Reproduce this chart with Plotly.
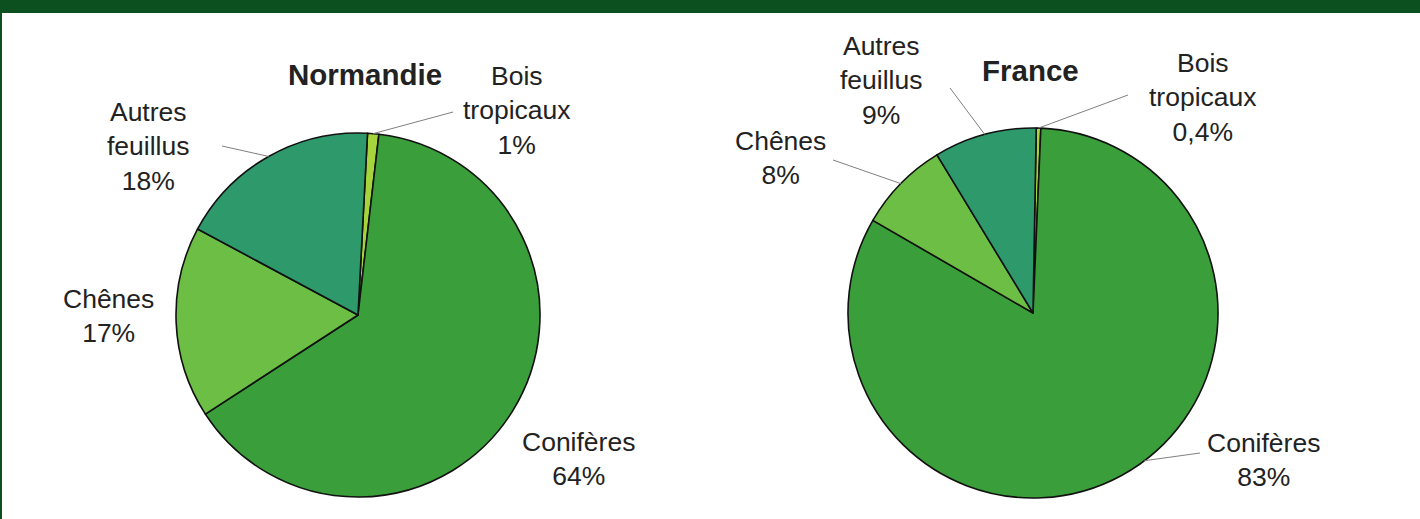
import math
import plotly.graph_objects as go

W, H = 1420, 519

# ---- data ----
categories = ["Bois tropicaux", "Conifères", "Chênes", "Autres feuillus"]
normandie_values = [1, 64, 17, 18]
france_values = [0.4, 83, 8, 9]
normandie_labels = ["1%", "64%", "17%", "18%"]
france_labels = ["0,4%", "83%", "8%", "9%"]
colors = ["#a6d43c", "#3a9e3a", "#6cbf44", "#2e9a6c"]

def px(x):
    return x / W

def py(y):
    return 1 - y / H

# pie geometry (pixels)
N_C, N_R, N_ROT = (358, 315), 182, 3
F_C, F_R, F_ROT = (1033, 313), 185, 1

def dom(c, r):
    return dict(x=[px(c[0] - r), px(c[0] + r)], y=[py(c[1] + r), py(c[1] - r)])

def mid_point(values, idx, c, r, rot):
    tot = sum(values)
    start = sum(values[:idx]) / tot * 360
    ang = math.radians(rot + start + values[idx] / tot * 180)
    return c[0] + r * math.sin(ang), c[1] - r * math.cos(ang)

def edge_point(c, r, deg):
    a = math.radians(deg)
    return c[0] + r * math.sin(a), c[1] - r * math.cos(a)

fig = go.Figure()
for vals, c, r, rot in [(normandie_values, N_C, N_R, N_ROT), (france_values, F_C, F_R, F_ROT)]:
    fig.add_trace(go.Pie(
        labels=categories, values=vals, sort=False, direction="clockwise",
        rotation=rot, domain=dom(c, r), textinfo="none", hoverinfo="skip",
        marker=dict(colors=colors, line=dict(color="#111111", width=1.6)),
        showlegend=False,
    ))

FONT = "Liberation Sans, Arial, Helvetica, sans-serif"
TXT = "#222222"

def label(x, y, text, size=26.5, bold=False):
    fig.add_annotation(x=px(x), y=py(y), xref="paper", yref="paper",
                       text=f"<b>{text}</b>" if bold else text, showarrow=False,
                       font=dict(family=FONT, size=size, color=TXT),
                       xanchor="center", yanchor="middle", align="center")

def leader(head, tail):
    fig.add_shape(type="line", xref="paper", yref="paper",
                  x0=px(head[0]), y0=py(head[1]), x1=px(tail[0]), y1=py(tail[1]),
                  line=dict(color="#808080", width=1))

# Normandie
label(365, 75, "Normandie", size=29.5, bold=True)
label(517, 111, f"Bois<br>tropicaux<br>{normandie_labels[0]}")
label(578, 459, f"Conifères<br>{normandie_labels[1]}")
label(108, 316, f"Chênes<br>{normandie_labels[2]}")
label(148, 146, f"Autres<br>feuillus<br>{normandie_labels[3]}")
leader(mid_point(normandie_values, 0, N_C, N_R, N_ROT), (453, 112))
leader(mid_point(normandie_values, 3, N_C, N_R, N_ROT), (222, 146))

# France
label(1030, 70, "France", size=29.5, bold=True)
label(1203, 97, f"Bois<br>tropicaux<br>{france_labels[0]}")
label(1263, 460, f"Conifères<br>{france_labels[1]}")
label(780, 158, f"Chênes<br>{france_labels[2]}")
label(882, 81, f"Autres<br>feuillus<br>{france_labels[3]}")
leader(mid_point(france_values, 0, F_C, F_R, F_ROT), (1128, 95))
leader(mid_point(france_values, 3, F_C, F_R, F_ROT), (950, 88))
leader(mid_point(france_values, 2, F_C, F_R, F_ROT), (833, 160))
leader(edge_point(F_C, F_R, 143), (1200, 453))

# frame: top band and left border
fig.add_shape(type="rect", xref="paper", yref="paper", x0=0, x1=1, y0=py(13), y1=1,
              fillcolor="#0c5020", line=dict(width=0), layer="above")
fig.add_shape(type="rect", xref="paper", yref="paper", x0=0, x1=px(2), y0=0, y1=1,
              fillcolor="#0c5020", line=dict(width=0), layer="above")

fig.update_layout(width=W, height=H, autosize=False,
                  margin=dict(l=0, r=0, t=0, b=0),
                  paper_bgcolor="white", plot_bgcolor="white")

fig.write_html("out.html", config={"displayModeBar": False},
               post_script="document.body.style.margin='0';document.body.style.overflow='hidden';")
